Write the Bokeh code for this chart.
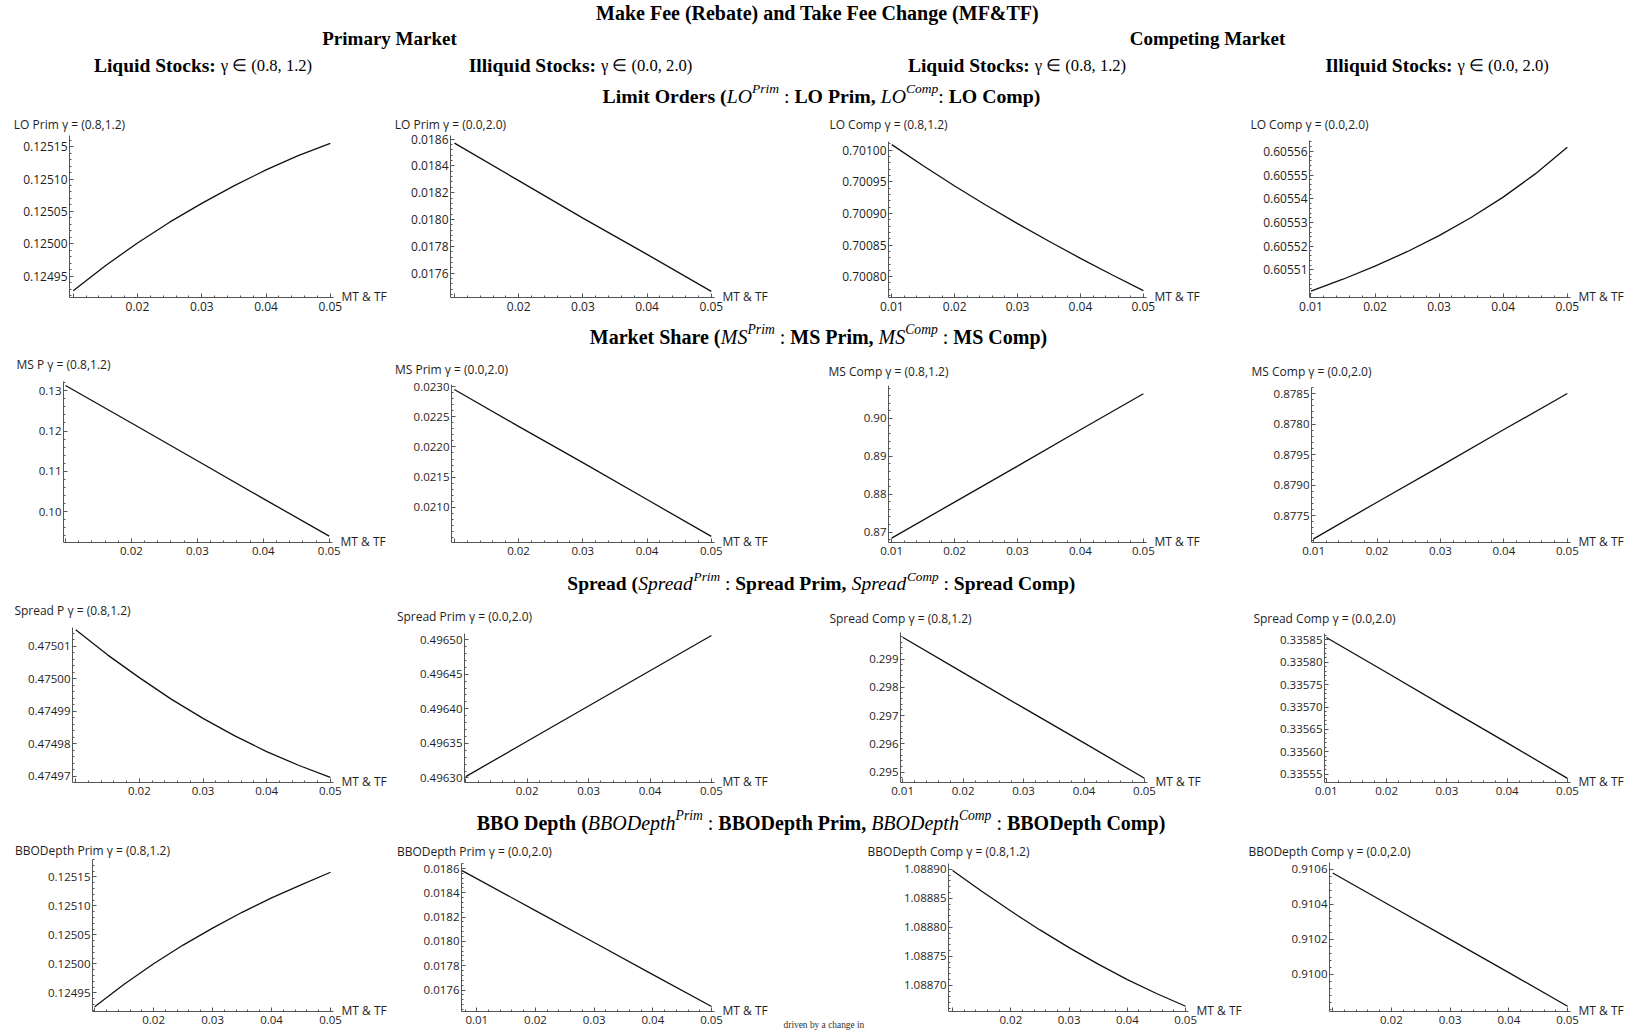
import numpy as np
from bokeh.plotting import figure
from bokeh.models import Range1d, FixedTicker, LinearAxis
from bokeh.layouts import column, row
from bokeh.embed import file_html
from bokeh.resources import INLINE
from bokeh.core.properties import value

# ---------------- data ----------------
mf_tf_9 = [0.010, 0.015, 0.020, 0.025, 0.030, 0.035, 0.040, 0.045, 0.050]
mf_tf_5 = [0.01, 0.02, 0.03, 0.04, 0.05]
mf_tf_bbo_ill = [0.0075, 0.02, 0.03, 0.04, 0.05]

lo_prim_liquid = [0.124928, 0.1249665, 0.1250015, 0.1250335, 0.1250625, 0.1250895, 0.125114, 0.125136, 0.125155]
lo_prim_illiquid = [0.01857, 0.01829, 0.01801, 0.01774, 0.017464]
lo_comp_liquid = [0.701009, 0.7009755, 0.7009435, 0.700913, 0.700884, 0.700856, 0.700829, 0.700803, 0.700778]
lo_comp_illiquid = [0.6055011, 0.6055061, 0.6055116, 0.6055177, 0.6055245, 0.6055321, 0.6055407, 0.6055505, 0.6055617]

ms_prim_liquid = [0.1313, 0.1220, 0.1126, 0.1032, 0.0939]
ms_prim_illiquid = [0.02295, 0.02234, 0.02174, 0.02113, 0.02052]
ms_comp_liquid = [0.8684, 0.8779, 0.8874, 0.8970, 0.9065]
ms_comp_illiquid = [0.87612, 0.87672, 0.87731, 0.87791, 0.8785]

spread_prim_liquid = [0.4750150, 0.4750073, 0.4750003, 0.4749937, 0.4749878, 0.4749824, 0.4749776, 0.4749734, 0.4749697]
spread_prim_illiquid = [0.496302, 0.496353, 0.496404, 0.496455, 0.496506]
spread_comp_liquid = [0.29977, 0.29852, 0.29727, 0.29603, 0.29478]
spread_comp_illiquid = [0.335855, 0.335777, 0.335698, 0.335620, 0.335541]

bbo_prim_liquid = [0.124926, 0.124965, 0.1250002, 0.1250325, 0.1250618, 0.1250890, 0.1251138, 0.1251362, 0.125158]
bbo_prim_illiquid = [0.018583, 0.018254, 0.017991, 0.017727, 0.017464]
bbo_comp_liquid = [1.088898, 1.088862, 1.088828, 1.0887955, 1.088765, 1.0887365, 1.08871, 1.088686, 1.088664]
bbo_comp_illiquid = [0.91058, 0.91039, 0.91020, 0.91001, 0.909818]

# ---------------- ticks ----------------
x_ticks = [0.01, 0.02, 0.03, 0.04, 0.05]
x_tick_labels = ["0.01", "0.02", "0.03", "0.04", "0.05"]

yt_lo_prim_liq = [0.12495, 0.12500, 0.12505, 0.12510, 0.12515]
yl_lo_prim_liq = ["0.12495", "0.12500", "0.12505", "0.12510", "0.12515"]
yt_lo_prim_ill = [0.0176, 0.0178, 0.0180, 0.0182, 0.0184, 0.0186]
yl_lo_prim_ill = ["0.0176", "0.0178", "0.0180", "0.0182", "0.0184", "0.0186"]
yt_lo_comp_liq = [0.70080, 0.70085, 0.70090, 0.70095, 0.70100]
yl_lo_comp_liq = ["0.70080", "0.70085", "0.70090", "0.70095", "0.70100"]
yt_lo_comp_ill = [0.60551, 0.60552, 0.60553, 0.60554, 0.60555, 0.60556]
yl_lo_comp_ill = ["0.60551", "0.60552", "0.60553", "0.60554", "0.60555", "0.60556"]

yt_ms_prim_liq = [0.10, 0.11, 0.12, 0.13]
yl_ms_prim_liq = ["0.10", "0.11", "0.12", "0.13"]
yt_ms_prim_ill = [0.0210, 0.0215, 0.0220, 0.0225, 0.0230]
yl_ms_prim_ill = ["0.0210", "0.0215", "0.0220", "0.0225", "0.0230"]
yt_ms_comp_liq = [0.87, 0.88, 0.89, 0.90]
yl_ms_comp_liq = ["0.87", "0.88", "0.89", "0.90"]
yt_ms_comp_ill = [0.8765, 0.8770, 0.8775, 0.8780, 0.8785]
yl_ms_comp_ill = ["0.8775", "0.8790", "0.8795", "0.8780", "0.8785"]

yt_sp_prim_liq = [0.47497, 0.47498, 0.47499, 0.47500, 0.47501]
yl_sp_prim_liq = ["0.47497", "0.47498", "0.47499", "0.47500", "0.47501"]
yt_sp_prim_ill = [0.49630, 0.49635, 0.49640, 0.49645, 0.49650]
yl_sp_prim_ill = ["0.49630", "0.49635", "0.49640", "0.49645", "0.49650"]
yt_sp_comp_liq = [0.295, 0.296, 0.297, 0.298, 0.299]
yl_sp_comp_liq = ["0.295", "0.296", "0.297", "0.298", "0.299"]
yt_sp_comp_ill = [0.33555, 0.33560, 0.33565, 0.33570, 0.33575, 0.33580, 0.33585]
yl_sp_comp_ill = ["0.33555", "0.33560", "0.33565", "0.33570", "0.33575", "0.33580", "0.33585"]

yt_bbo_prim_liq = [0.12495, 0.12500, 0.12505, 0.12510, 0.12515]
yl_bbo_prim_liq = ["0.12495", "0.12500", "0.12505", "0.12510", "0.12515"]
yt_bbo_prim_ill = [0.0176, 0.0178, 0.0180, 0.0182, 0.0184, 0.0186]
yl_bbo_prim_ill = ["0.0176", "0.0178", "0.0180", "0.0182", "0.0184", "0.0186"]
yt_bbo_comp_liq = [1.08870, 1.08875, 1.08880, 1.08885, 1.08890]
yl_bbo_comp_liq = ["1.08870", "1.08875", "1.08880", "1.08885", "1.08890"]
yt_bbo_comp_ill = [0.9100, 0.9102, 0.9104, 0.9106]
yl_bbo_comp_ill = ["0.9100", "0.9102", "0.9104", "0.9106"]

# ---------------- texts ----------------
main_title = "Make Fee (Rebate) and Take Fee Change (MF&TF)"
market_titles = ["Primary Market", "Competing Market"]
stock_bold = ["Liquid Stocks: ", "Illiquid Stocks: ", "Liquid Stocks: ", "Illiquid Stocks: "]
stock_math = ["γ ∈ (0.8, 1.2)", "γ ∈ (0.0, 2.0)", "γ ∈ (0.8, 1.2)", "γ ∈ (0.0, 2.0)"]
section_lines = [
    [("Limit Orders (", "b"), ("LO", "i"), ("Prim", "s"), (" : ", "r"), ("LO Prim, ", "b"),
     ("LO", "i"), ("Comp", "s"), (": ", "r"), ("LO Comp)", "b")],
    [("Market Share (", "b"), ("MS", "i"), ("Prim", "s"), (" : ", "r"), ("MS Prim, ", "b"),
     ("MS", "i"), ("Comp", "s"), (" : ", "r"), ("MS Comp)", "b")],
    [("Spread (", "b"), ("Spread", "i"), ("Prim", "s"), (" : ", "r"), ("Spread Prim, ", "b"),
     ("Spread", "i"), ("Comp", "s"), (" : ", "r"), ("Spread Comp)", "b")],
    [("BBO Depth (", "b"), ("BBODepth", "i"), ("Prim", "s"), (" : ", "r"), ("BBODepth Prim, ", "b"),
     ("BBODepth", "i"), ("Comp", "s"), (" : ", "r"), ("BBODepth Comp)", "b")],
]
x_axis_name = "MT & TF"
footnote = "driven by a change in"

# ---------------- text metrics (Times-compatible, per 1000 em) ----------------
_up = "ABCDEFGHIJKLMNOPQRSTUVWXYZ"
_lo = "abcdefghijklmnopqrstuvwxyz"
W_B = dict(zip(_up, [722, 667, 722, 722, 667, 611, 778, 778, 389, 500, 778, 667, 944, 722, 778, 611, 778, 722, 556, 667, 722, 722, 1000, 722, 722, 667]))
W_B.update(zip(_lo, [500, 556, 444, 556, 444, 333, 500, 556, 278, 333, 556, 278, 833, 556, 500, 556, 556, 444, 389, 333, 556, 500, 722, 500, 500, 444]))
W_B.update({" ": 250, "(": 333, ")": 333, ",": 250, ":": 333, "&": 833, ".": 250})
W_I = dict(zip(_up, [611, 611, 667, 722, 611, 611, 722, 722, 333, 444, 667, 556, 833, 667, 722, 611, 722, 611, 500, 556, 722, 611, 833, 611, 556, 556]))
W_I.update(zip(_lo, [500, 500, 444, 500, 444, 278, 500, 500, 278, 278, 444, 278, 722, 500, 500, 500, 500, 389, 389, 278, 500, 444, 667, 444, 444, 389]))
W_I.update({" ": 250})
W_R = {" ": 250, "(": 333, ")": 333, ",": 250, ".": 250, ":": 278, "γ": 450, "∈": 900}
W_R.update(zip(_lo, [444, 500, 444, 500, 444, 333, 500, 500, 278, 278, 500, 278, 778, 500, 500, 500, 500, 333, 389, 278, 500, 500, 722, 500, 500, 444]))
TABLE = {"b": W_B, "i": W_I, "r": W_R, "s": W_I, "m": W_R}
SIZE_F = {"b": 1.0, "i": 1.0, "r": 1.0, "s": 0.68, "m": 0.85}
FSTYLE = {"b": "bold", "i": "italic", "r": "normal", "s": "italic", "m": "normal"}

PAGE_W = 1636
SERIF = "Liberation Serif"
SANS = "Open Sans"
AXIS_COL = "#555555"
LABEL_COL = "#1e1e1e"


def seg_w(t, st, size):
    return sum(TABLE[st].get(ch, 500) for ch in t) / 1000.0 * size * SIZE_F[st]


def draw_seg(p, t, st, x, y, size):
    sz = size * SIZE_F[st]
    lead = len(t) - len(t.lstrip(" "))
    txt = t.strip(" ")
    if not txt:
        return
    xx = x + lead * 0.25 * sz
    yy = y - 0.34 * size if st == "s" else y
    p.text(x=[xx], y=[yy], text=[txt], text_font=value(SERIF), text_font_style=FSTYLE[st],
           text_font_size=f"{sz:.1f}px", text_align="left", text_baseline="middle", text_color="#000000")


def draw_line(p, segs, cx, y, size):
    total = sum(seg_w(t, s, size) for t, s in segs)
    x = cx - total / 2.0
    for t, s in segs:
        draw_seg(p, t, s, x, y, size)
        x += seg_w(t, s, size)


def blank_fig(x0, x1, y0, y1):
    w, h = int(x1 - x0), int(y1 - y0)
    p = figure(width=w, height=h, x_range=Range1d(x0, x1),
               y_range=Range1d(y1, y0), title=None, tools="", toolbar_location=None,
               output_backend="svg", min_border=0, x_axis_location=None, y_axis_location=None)
    p.grid.visible = False
    p.outline_line_color = None
    p.background_fill_color = "white"
    p.border_fill_color = "white"
    return p


# ---------------- layout bands ----------------
header_bands = [(0, 112), (322, 352), (570, 598), (806, 838)]
row_spans = [(112, 322), (352, 570), (598, 806), (838, 1032)]
row_bottom_axis = [297, 542, 782, 1011]
col_edges = [[0, 390, 800, 1222, PAGE_W], [0, 390, 800, 1222, PAGE_W],
             [0, 390, 800, 1222, PAGE_W], [0, 390, 775, 866, 1244, PAGE_W]]
tick_sizes = ["12px", "11.5px", "11.5px", "11.5px"]

panels = [
    dict(r=0, c=0, x=mf_tf_9, y=lo_prim_liquid, yt=yt_lo_prim_liq, yl=yl_lo_prim_liq, show01=False,
         title="LO Prim γ = (0.8,1.2)", L=69, R05=330, T=133, B=297, x0=0.00942, ylo=0.1249175, yhi=0.125167, ty=123),
    dict(r=0, c=1, x=mf_tf_5, y=lo_prim_illiquid, yt=yt_lo_prim_ill, yl=yl_lo_prim_ill, show01=False,
         title="LO Prim γ = (0.0,2.0)", L=450, R05=711, T=133, B=297, x0=0.00938, ylo=0.017418, yhi=0.018627, ty=123),
    dict(r=0, c=2, x=mf_tf_9, y=lo_comp_liquid, yt=yt_lo_comp_liq, yl=yl_lo_comp_liq, show01=True,
         title="LO Comp γ = (0.8,1.2)", L=888, R05=1143, T=139, B=297, x0=0.00948, ylo=0.700767, yhi=0.701014, ty=123),
    dict(r=0, c=3, x=mf_tf_9, y=lo_comp_illiquid, yt=yt_lo_comp_ill, yl=yl_lo_comp_ill, show01=True,
         title="LO Comp γ = (0.0,2.0)", L=1309, R05=1567, T=138, B=297, x0=0.00978, ylo=0.6054984, yhi=0.6055646, ty=123),

    dict(r=1, c=0, x=mf_tf_5, y=ms_prim_liquid, yt=yt_ms_prim_liq, yl=yl_ms_prim_liq, show01=False,
         title="MS P γ = (0.8,1.2)", L=63, R05=329, T=379, B=542, x0=0.0097, ylo=0.0923, yhi=0.1323, ty=363),
    dict(r=1, c=1, x=mf_tf_5, y=ms_prim_illiquid, yt=yt_ms_prim_ill, yl=yl_ms_prim_ill, show01=False,
         title="MS Prim γ = (0.0,2.0)", L=451, R05=711, T=382, B=542, x0=0.00956, ylo=0.020419, yhi=0.023034, ty=368),
    dict(r=1, c=2, x=mf_tf_5, y=ms_comp_liquid, yt=yt_ms_comp_liq, yl=yl_ms_comp_liq, show01=True,
         title="MS Comp γ = (0.8,1.2)", L=888, R05=1143, T=383, B=541, x0=0.0095, ylo=0.8675, yhi=0.9087, ty=370),
    dict(r=1, c=3, x=mf_tf_5, y=ms_comp_illiquid, yt=yt_ms_comp_ill, yl=yl_ms_comp_ill, show01=True,
         title="MS Comp γ = (0.0,2.0)", L=1311, R05=1567, T=385, B=542, x0=0.00967, ylo=0.87606, yhi=0.8786, ty=370),

    dict(r=2, c=0, x=mf_tf_9, y=spread_prim_liquid, yt=yt_sp_prim_liq, yl=yl_sp_prim_liq, show01=False,
         title="Spread P γ = (0.8,1.2)", L=72, R05=330, T=625, B=783, x0=0.0095, ylo=0.4749678, yhi=0.4750157, ty=609),
    dict(r=2, c=1, x=mf_tf_5, y=spread_prim_illiquid, yt=yt_sp_prim_ill, yl=yl_sp_prim_ill, show01=False,
         title="Spread Prim γ = (0.0,2.0)", L=464, R05=711, T=631, B=783, x0=0.0098, ylo=0.496292, yhi=0.496509, ty=615),
    dict(r=2, c=2, x=mf_tf_5, y=spread_comp_liquid, yt=yt_sp_comp_liq, yl=yl_sp_comp_liq, show01=True,
         title="Spread Comp γ = (0.8,1.2)", L=900, R05=1144, T=630, B=782, x0=0.00965, ylo=0.29463, yhi=0.29994, ty=617),
    dict(r=2, c=3, x=mf_tf_5, y=spread_comp_illiquid, yt=yt_sp_comp_ill, yl=yl_sp_comp_ill, show01=True,
         title="Spread Comp γ = (0.0,2.0)", L=1324, R05=1567, T=631, B=781, x0=0.0097, ylo=0.335534, yhi=0.335864, ty=617),

    dict(r=3, c=0, x=mf_tf_9, y=bbo_prim_liquid, yt=yt_bbo_prim_liq, yl=yl_bbo_prim_liq, show01=False,
         title="BBODepth Prim γ = (0.8,1.2)", L=92, R05=330, T=857, B=1011, x0=0.00964, ylo=0.124918, yhi=0.12518, ty=849),
    dict(r=3, c=1, x=mf_tf_bbo_ill, y=bbo_prim_illiquid, yt=yt_bbo_prim_ill, yl=yl_bbo_prim_ill, show01=True,
         title="BBODepth Prim γ = (0.0,2.0)", L=461, R05=711, T=861, B=1011, x0=0.0074, ylo=0.017423, yhi=0.018642, ty=850),
    dict(r=3, c=3, x=mf_tf_9, y=bbo_comp_liquid, yt=yt_bbo_comp_liq, yl=yl_bbo_comp_liq, show01=False,
         title="BBODepth Comp γ = (0.8,1.2)", L=948, R05=1186, T=861, B=1011, x0=0.0093, ylo=1.088655, yhi=1.08891, ty=850),
    dict(r=3, c=4, x=mf_tf_5, y=bbo_comp_illiquid, yt=yt_bbo_comp_ill, yl=yl_bbo_comp_ill, show01=False,
         title="BBODepth Comp γ = (0.0,2.0)", L=1329, R05=1567, T=860, B=1011, x0=0.00946, ylo=0.909788, yhi=0.91064, ty=850),
]

X_END = 0.0505


def minor_list(major, lo, hi):
    step = (major[1] - major[0]) / 5.0
    vals = np.arange(major[0] - 5 * step, major[-1] + 5.5 * step, step)
    return [round(float(v), 10) for v in vals if lo <= v <= hi]


def style_axis(ax, size, standoff):
    ax.axis_line_color = AXIS_COL
    ax.axis_line_width = 1
    ax.major_tick_line_color = AXIS_COL
    ax.minor_tick_line_color = AXIS_COL
    ax.major_tick_in = 4
    ax.major_tick_out = 0
    ax.minor_tick_in = 2
    ax.minor_tick_out = 0
    ax.major_label_text_font = SANS
    ax.major_label_text_font_size = size
    ax.major_label_text_color = LABEL_COL
    ax.major_label_standoff = standoff


def label_axis(pos, text, standoff, font=SANS, size="12px", color=LABEL_COL):
    ax = LinearAxis(ticker=FixedTicker(ticks=[pos], minor_ticks=[]), major_label_overrides={pos: text})
    ax.axis_line_color = None
    ax.major_tick_line_color = None
    ax.minor_tick_line_color = None
    ax.major_tick_in = 0
    ax.major_tick_out = 0
    ax.major_label_standoff = standoff
    ax.major_label_text_font = font
    ax.major_label_text_font_size = size
    ax.major_label_text_color = color
    return ax


def make_panel(s, t_common):
    fy0, fy1 = row_spans[s["r"]]
    b_common = row_bottom_axis[s["r"]]
    fx0, fx1 = col_edges[s["r"]][s["c"]], col_edges[s["r"]][s["c"] + 1]
    scale = (s["R05"] - s["L"]) / (0.05 - s["x0"])
    fw = int(round((X_END - s["x0"]) * scale))
    left = int(round(s["L"] - fx0))
    w, h = int(fx1 - fx0), int(fy1 - fy0)
    right = w - left - fw
    # vertical data range extended to the row's shared frame top / bottom
    per_px = (s["yhi"] - s["ylo"]) / (s["B"] - s["T"])
    r_lo = s["ylo"] - (b_common - s["B"]) * per_px
    r_hi = s["yhi"] + (s["T"] - t_common) * per_px
    p = figure(width=w, height=h, x_range=Range1d(s["x0"], X_END), y_range=Range1d(r_lo, r_hi),
               title=None, tools="", toolbar_location=None, output_backend="svg",
               min_border_left=left, min_border_right=right,
               min_border_top=int(t_common - fy0), min_border_bottom=int(fy1 - b_common))
    p.grid.visible = False
    p.outline_line_color = None
    p.background_fill_color = "white"
    p.border_fill_color = "white"
    p.line(s["x"], s["y"], line_color="#111111", line_width=1.3)

    tsize = tick_sizes[s["r"]]
    style_axis(p.xaxis[0], tsize, 4)
    style_axis(p.yaxis[0], tsize, 2)
    p.yaxis[0].bounds = (r_lo, s["yhi"])
    p.xaxis[0].ticker = FixedTicker(ticks=x_ticks, minor_ticks=minor_list(x_ticks, s["x0"], X_END))
    xo = dict(zip(x_ticks, x_tick_labels))
    if not s["show01"]:
        xo[x_ticks[0]] = ""
    p.xaxis[0].major_label_overrides = xo
    p.yaxis[0].ticker = FixedTicker(ticks=s["yt"], minor_ticks=minor_list(s["yt"], r_lo, s["yhi"]))
    p.yaxis[0].major_label_overrides = dict(zip(s["yt"], s["yl"]))

    # vertical-axis name, centred over the top of the vertical axis
    top_pos = s["x0"] + (X_END - s["x0"]) * 1e-6
    p.add_layout(label_axis(top_pos, s["title"], max(0, int(round(t_common - s["ty"] - 7)))), "above")
    # horizontal-axis name at the right end of the horizontal axis
    name_pos = r_lo + (r_hi - r_lo) * 0.007
    p.add_layout(label_axis(name_pos, x_axis_name, 8), "right")
    return p


def footnote_fig(t_common):
    fx0, fx1 = col_edges[3][2], col_edges[3][3]
    fy0, fy1 = row_spans[3]
    b_common = row_bottom_axis[3]
    p = figure(width=int(fx1 - fx0), height=int(fy1 - fy0), x_range=Range1d(fx0, fx1), y_range=Range1d(0, 1),
               title=None, tools="", toolbar_location=None, output_backend="svg",
               min_border_left=0, min_border_right=0, min_border_top=int(t_common - fy0),
               min_border_bottom=int(fy1 - b_common), y_axis_location=None)
    p.grid.visible = False
    p.outline_line_color = None
    p.background_fill_color = "white"
    p.border_fill_color = "white"
    p.xaxis.visible = False
    size = 9.4
    centre = 783 + 0.5 * seg_w(footnote, "r", size)
    p.add_layout(label_axis(centre, footnote, 8, font=SERIF, size=f"{size}px", color="#333333"), "below")
    return p


# headers
hdrs = [blank_fig(0, PAGE_W, y0, y1) for (y0, y1) in header_bands]
draw_line(hdrs[0], [(main_title, "b")], 818, 12, 20)
draw_line(hdrs[0], [(market_titles[0], "b")], 389, 38, 19)
draw_line(hdrs[0], [(market_titles[1], "b")], 1207, 38, 19)
for cx, sb, sm in zip([202.5, 580, 1016.5, 1436.5], stock_bold, stock_math):
    draw_line(hdrs[0], [(sb, "b"), (sm, "m")], cx, 65, 19.5)
draw_line(hdrs[0], section_lines[0], 821, 95, 19.8)
draw_line(hdrs[1], section_lines[1], 818, 336, 20)
draw_line(hdrs[2], section_lines[2], 821, 583, 19.5)
draw_line(hdrs[3], section_lines[3], 820.5, 822, 20)

rows = []
for r in range(4):
    specs = [s for s in panels if s["r"] == r]
    t_common = min(s["T"] for s in specs)
    figs = [make_panel(s, t_common) for s in specs]
    if r == 3:
        figs = figs[:2] + [footnote_fig(t_common)] + figs[2:]
    rows.append(row(*figs))

layout = column(hdrs[0], rows[0], hdrs[1], rows[1], hdrs[2], rows[2], hdrs[3], rows[3])

open("out.html", "w").write(file_html(layout, INLINE))
